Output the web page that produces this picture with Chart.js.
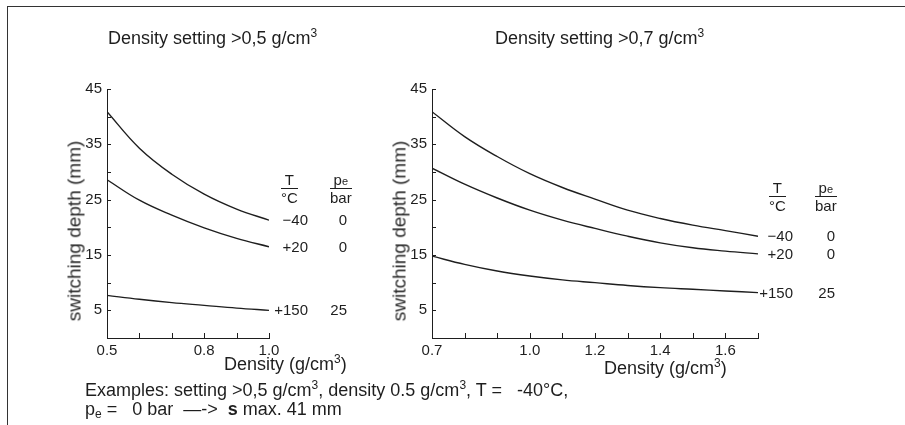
<!DOCTYPE html>
<html>
<head>
<meta charset="utf-8">
<script src="https://cdn.jsdelivr.net/npm/chart.js@4.4.1/dist/chart.umd.min.js"></script>
<style>
  body { margin: 0; background: #fff; font-family: "Liberation Sans", Arial, sans-serif; color: #1e1e1e; }
  #page { position: relative; width: 905px; height: 425px; overflow: hidden; }
  .frame { position: absolute; left: 7px; top: 6px; width: 920px; height: 440px;
           border-left: 1.5px solid #333; border-top: 1.5px solid #333; }
  .box { position: absolute; top: 0; height: 425px; }
  .t { position: absolute; white-space: nowrap; line-height: 1; }
  .title { font-size: 18px; }
  .ytitle { font-size: 19px; color: #2a2a2a; transform: translate(-50%, -50%) rotate(-90deg); }
  .xtitle { font-size: 18px; }
  .frac { position: absolute; font-size: 15px; text-align: center; line-height: 1; }
  .frac .num { border-bottom: 1.2px solid #1e1e1e; padding: 0 1px 1px; }
  .frac .den { padding-top: 1px; }
  .note { font-size: 18px; }
  sup { font-size: 12px; vertical-align: 7px; line-height: 0; }
  .sub { font-size: 11px; }
  .note .sub { font-size: 12px; vertical-align: -3px; }
</style>
</head>
<body>
<div id="page">
  <div class="frame"></div>

  <div class="box" style="left:0; width:400px;"><canvas id="left"></canvas></div>
  <div class="box" style="left:380px; width:480px;"><canvas id="right"></canvas></div>

  <div class="t title" style="left:108px; top:29px;">Density setting &gt;0,5 g/cm<sup>3</sup></div>
  <div class="t title" style="left:495px; top:29px;">Density setting &gt;0,7 g/cm<sup>3</sup></div>

  <div class="t ytitle" style="left:74px; top:231px;">switching depth (mm)</div>
  <div class="t ytitle" style="left:399px; top:231px;">switching depth (mm)</div>

  <div class="t xtitle" style="left:224px; top:355px;">Density (g/cm<sup>3</sup>)</div>
  <div class="t xtitle" style="left:604px; top:359px;">Density (g/cm<sup>3</sup>)</div>

  <div class="frac" style="left:281px; top:172px;"><div class="num">T</div><div class="den">°C</div></div>
  <div class="frac" style="left:330px; top:172px;"><div class="num">p<span class="sub">e</span></div><div class="den">bar</div></div>
  <div class="frac" style="left:769px; top:180px;"><div class="num">T</div><div class="den">°C</div></div>
  <div class="frac" style="left:815px; top:180px;"><div class="num">p<span class="sub">e</span></div><div class="den">bar</div></div>

  <div class="t note" style="left:85px; top:381px;">Examples: setting &gt;0,5 g/cm<sup>3</sup>, density 0.5 g/cm<sup>3</sup>, T = &nbsp; -40°C,</div>
  <div class="t note" style="left:85px; top:400px;">p<span class="sub">e</span> = &nbsp; 0 bar &nbsp;—-&gt; &nbsp;<b>s</b> max. 41 mm</div>
</div>

<script>
// DATA
const leftDensity = [0.5, 0.6, 0.7, 0.8, 0.9, 1.0];
const leftMinus40 = [40.9, 34.3, 29.6, 26.0, 23.3, 21.3];
const leftPlus20 = [28.6, 24.9, 22.2, 19.9, 18.0, 16.5];
const leftPlus150 = [7.7, 7.0, 6.4, 5.9, 5.4, 5.0];

const rightDensity = [0.7, 0.8, 0.9, 1.0, 1.1, 1.2, 1.3, 1.4, 1.5, 1.6, 1.7];
const rightMinus40 = [40.9, 36.4, 32.8, 29.7, 27.2, 25.1, 23.1, 21.6, 20.4, 19.4, 18.4];
const rightPlus20 = [30.7, 27.8, 25.3, 23.1, 21.3, 19.8, 18.4, 17.2, 16.3, 15.7, 15.2];
const rightPlus150 = [14.8, 13.3, 12.1, 11.2, 10.5, 10.0, 9.5, 9.1, 8.8, 8.5, 8.2];

const tempLabels = ['\u221240', '+20', '+150'];
const pressureLabels = ['0', '0', '25'];

const yTickLabels = [5, 15, 25, 35, 45];
const leftXTickLabels = ['0.5', '0.8', '1.0'];
const rightXTickLabels = ['0.7', '1.0', '1.2', '1.4', '1.6'];

const INK = '#1e1e1e';
const FONT = '"Liberation Sans", Arial, sans-serif';

// inward tick marks + curve end labels
const decorations = {
    id: 'decorations',
    afterDraw(chart, args, opts) {
        const ctx = chart.ctx;
        const a = chart.chartArea;
        const xs = chart.scales.x;
        const ys = chart.scales.y;
        ctx.save();
        ctx.strokeStyle = INK;
        ctx.lineWidth = 1;
        ctx.beginPath();
        ys.ticks.forEach((t, i) => {
            if (t.value === 0) return;
            const py = Math.round(ys.getPixelForTick(i)) + 0.5;
            ctx.moveTo(a.left, py);
            ctx.lineTo(a.left + 4, py);
        });
        xs.ticks.forEach((t, i) => {
            if (i === 0) return;
            const px = Math.round(xs.getPixelForTick(i)) + 0.5;
            ctx.moveTo(px, a.bottom);
            ctx.lineTo(px, a.bottom - 5);
        });
        ctx.stroke();

        ctx.fillStyle = INK;
        ctx.font = '15px ' + FONT;
        ctx.textAlign = 'right';
        ctx.textBaseline = 'middle';
        chart.data.datasets.forEach((ds, i) => {
            const meta = chart.getDatasetMeta(i);
            const last = meta.data[meta.data.length - 1];
            ctx.fillText(tempLabels[i], last.x + opts.tOffset, last.y + 1);
            ctx.fillText(pressureLabels[i], last.x + opts.pOffset, last.y + 1);
        });
        ctx.restore();
    }
};

function toPoints(xs, ys) {
    return xs.map((x, i) => ({x: x, y: ys[i]}));
}

function makeChart(id, density, series, xTickLabels, area, boxWidth, offsets) {
    const ctx = document.getElementById(id).getContext('2d');
    return new Chart(ctx, {
        type: 'line',
        data: {
            datasets: series.map(s => ({
                data: toPoints(density, s),
                borderColor: INK,
                borderWidth: 1.4,
                pointRadius: 0,
                fill: false,
                tension: 0.4
            }))
        },
        options: {
            responsive: true,
            maintainAspectRatio: false,
            animation: false,
            events: [],
            layout: {
                padding: {left: 0, top: area.top, right: boxWidth - area.right, bottom: 0}
            },
            plugins: {
                legend: {display: false},
                tooltip: {enabled: false},
                decorations: offsets
            },
            scales: {
                x: {
                    type: 'linear',
                    min: density[0],
                    max: density[density.length - 1],
                    afterFit: s => { s.height = 425 - area.bottom; },
                    grid: {drawOnChartArea: false, drawTicks: false},
                    border: {display: true, color: INK, width: 1},
                    ticks: {
                        stepSize: 0.1,
                        autoSkip: false,
                        maxRotation: 0,
                        padding: 4,
                        color: INK,
                        font: {family: FONT, size: 15},
                        callback: v => {
                            const s = Number(v).toFixed(1);
                            return xTickLabels.includes(s) ? s : '';
                        }
                    }
                },
                y: {
                    min: 0,
                    max: 45,
                    afterFit: s => { s.width = area.left; },
                    grid: {drawOnChartArea: false, drawTicks: false},
                    border: {display: true, color: INK, width: 1},
                    ticks: {
                        stepSize: 5,
                        autoSkip: false,
                        padding: 5,
                        color: INK,
                        font: {family: FONT, size: 15},
                        callback: v => yTickLabels.includes(Math.round(v)) ? String(Math.round(v)) : ''
                    }
                }
            }
        },
        plugins: [decorations]
    });
}

makeChart('left', leftDensity, [leftMinus40, leftPlus20, leftPlus150], leftXTickLabels,
    {left: 107, right: 269, top: 89, bottom: 338}, 400, {tOffset: 39, pOffset: 78});
makeChart('right', rightDensity, [rightMinus40, rightPlus20, rightPlus150], rightXTickLabels,
    {left: 52, right: 378, top: 89, bottom: 338}, 480, {tOffset: 35, pOffset: 77});
</script>
</body>
</html>
